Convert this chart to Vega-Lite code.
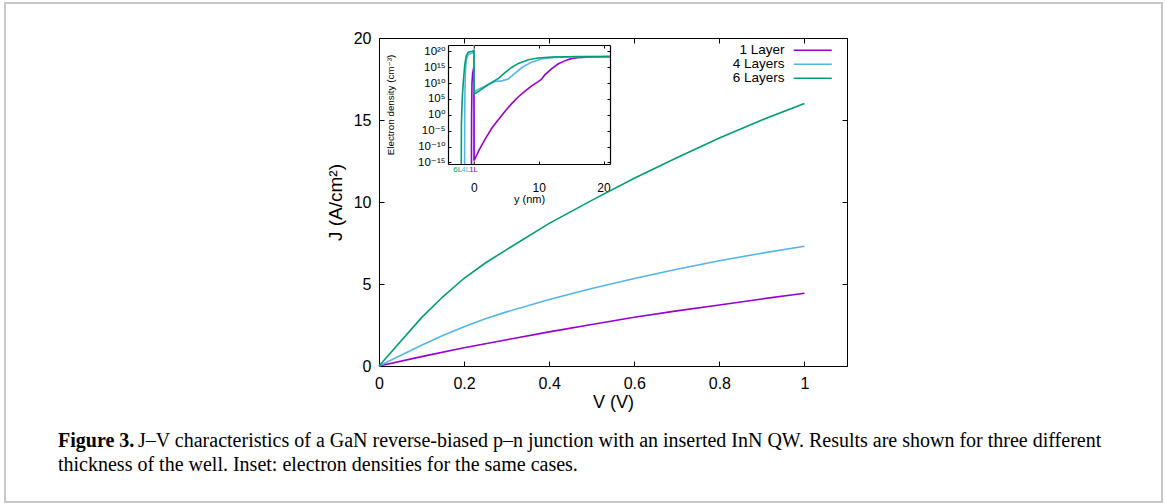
{
  "$schema": "https://vega.github.io/schema/vega-lite/v6.json",
  "width": 1157,
  "height": 499,
  "autosize": {"type": "none"},
  "padding": {"left": 5, "top": 3, "right": 3, "bottom": 2},
  "background": "white",
  "config": {
    "view": {"stroke": "#c8c8c8", "strokeWidth": 2},
    "font": "Liberation Sans",
    "axis": {
      "grid": false,
      "domainColor": "black",
      "tickColor": "black",
      "labelColor": "black",
      "titleColor": "black",
      "labelFont": "Liberation Sans, DejaVu Sans",
      "titleFont": "Liberation Sans, DejaVu Sans",
      "titleFontWeight": "normal",
      "labelFlush": false,
      "labelOverlap": false
    }
  },
  "datasets": {
    "jv": [
      {"series": "1 Layer", "V": 0, "J": 0},
      {"series": "1 Layer", "V": 0.1, "J": 0.57},
      {"series": "1 Layer", "V": 0.2, "J": 1.11},
      {"series": "1 Layer", "V": 0.3, "J": 1.6},
      {"series": "1 Layer", "V": 0.4, "J": 2.08},
      {"series": "1 Layer", "V": 0.5, "J": 2.53},
      {"series": "1 Layer", "V": 0.6, "J": 2.97},
      {"series": "1 Layer", "V": 0.7, "J": 3.36},
      {"series": "1 Layer", "V": 0.8, "J": 3.72},
      {"series": "1 Layer", "V": 0.9, "J": 4.09},
      {"series": "1 Layer", "V": 1.0, "J": 4.44},
      {"series": "4 Layers", "V": 0, "J": 0},
      {"series": "4 Layers", "V": 0.1, "J": 1.27},
      {"series": "4 Layers", "V": 0.15, "J": 1.86},
      {"series": "4 Layers", "V": 0.2, "J": 2.4},
      {"series": "4 Layers", "V": 0.25, "J": 2.88},
      {"series": "4 Layers", "V": 0.3, "J": 3.3},
      {"series": "4 Layers", "V": 0.4, "J": 4.05},
      {"series": "4 Layers", "V": 0.5, "J": 4.72},
      {"series": "4 Layers", "V": 0.6, "J": 5.33},
      {"series": "4 Layers", "V": 0.7, "J": 5.9},
      {"series": "4 Layers", "V": 0.8, "J": 6.42},
      {"series": "4 Layers", "V": 0.9, "J": 6.88},
      {"series": "4 Layers", "V": 1.0, "J": 7.3},
      {"series": "6 Layers", "V": 0, "J": 0},
      {"series": "6 Layers", "V": 0.1, "J": 2.95},
      {"series": "6 Layers", "V": 0.15, "J": 4.22},
      {"series": "6 Layers", "V": 0.2, "J": 5.35},
      {"series": "6 Layers", "V": 0.25, "J": 6.28},
      {"series": "6 Layers", "V": 0.3, "J": 7.1},
      {"series": "6 Layers", "V": 0.4, "J": 8.7},
      {"series": "6 Layers", "V": 0.5, "J": 10.1},
      {"series": "6 Layers", "V": 0.6, "J": 11.45},
      {"series": "6 Layers", "V": 0.7, "J": 12.7},
      {"series": "6 Layers", "V": 0.8, "J": 13.9},
      {"series": "6 Layers", "V": 0.9, "J": 15.0},
      {"series": "6 Layers", "V": 1.0, "J": 16.0}
    ],
    "dens": [
      {"series": "1 Layer", "d": -0.38, "n": 3.17e-16},
      {"series": "1 Layer", "d": -0.36, "n": 1},
      {"series": "1 Layer", "d": -0.3, "n": 1e10},
      {"series": "1 Layer", "d": -0.2, "n": 1e13},
      {"series": "1 Layer", "d": -0.05, "n": 5e14},
      {"series": "1 Layer", "d": 0, "n": 5e14},
      {"series": "1 Layer", "d": 0.03, "n": 4e-15},
      {"series": "1 Layer", "d": 0.77, "n": 6e-12},
      {"series": "1 Layer", "d": 1.78, "n": 3e-8},
      {"series": "1 Layer", "d": 2.8, "n": 8e-5},
      {"series": "1 Layer", "d": 3.82, "n": 0.04},
      {"series": "1 Layer", "d": 4.84, "n": 16},
      {"series": "1 Layer", "d": 5.86, "n": 4000},
      {"series": "1 Layer", "d": 6.87, "n": 5e5},
      {"series": "1 Layer", "d": 7.89, "n": 3e7},
      {"series": "1 Layer", "d": 8.91, "n": 1.3e9},
      {"series": "1 Layer", "d": 9.93, "n": 3e10},
      {"series": "1 Layer", "d": 10.44, "n": 1.6e11},
      {"series": "1 Layer", "d": 10.94, "n": 4e12},
      {"series": "1 Layer", "d": 11.96, "n": 3e14},
      {"series": "1 Layer", "d": 12.98, "n": 1e16},
      {"series": "1 Layer", "d": 14.0, "n": 1e17},
      {"series": "1 Layer", "d": 15.0, "n": 5e17},
      {"series": "1 Layer", "d": 16.0, "n": 1e18},
      {"series": "1 Layer", "d": 18.07, "n": 1.6e18},
      {"series": "1 Layer", "d": 21, "n": 2.2e18},
      {"series": "4 Layers", "d": -1.44, "n": 3.17e-16},
      {"series": "4 Layers", "d": -1.42, "n": 0.1},
      {"series": "4 Layers", "d": -1.38, "n": 1e8},
      {"series": "4 Layers", "d": -1.3, "n": 1e14},
      {"series": "4 Layers", "d": -1.17, "n": 3e17},
      {"series": "4 Layers", "d": -0.86, "n": 1e19},
      {"series": "4 Layers", "d": -0.25, "n": 3e19},
      {"series": "4 Layers", "d": 0, "n": 5e19},
      {"series": "4 Layers", "d": 0.02, "n": 2e7},
      {"series": "4 Layers", "d": 1.27, "n": 4e8},
      {"series": "4 Layers", "d": 2.3, "n": 5e9},
      {"series": "4 Layers", "d": 3.3, "n": 3e10},
      {"series": "4 Layers", "d": 4.3, "n": 5e10},
      {"series": "4 Layers", "d": 5.3, "n": 2e11},
      {"series": "4 Layers", "d": 6.36, "n": 1.3e13},
      {"series": "4 Layers", "d": 7.4, "n": 8e14},
      {"series": "4 Layers", "d": 8.9, "n": 4e16},
      {"series": "4 Layers", "d": 10.4, "n": 4e17},
      {"series": "4 Layers", "d": 12.5, "n": 1.3e18},
      {"series": "4 Layers", "d": 16, "n": 2e18},
      {"series": "4 Layers", "d": 21, "n": 2.5e18},
      {"series": "6 Layers", "d": -1.95, "n": 3.17e-16},
      {"series": "6 Layers", "d": -1.93, "n": 0.001},
      {"series": "6 Layers", "d": -1.88, "n": 2.5},
      {"series": "6 Layers", "d": -1.78, "n": 1e6},
      {"series": "6 Layers", "d": -1.67, "n": 2.5e9},
      {"series": "6 Layers", "d": -1.42, "n": 6e15},
      {"series": "6 Layers", "d": -1.17, "n": 5e18},
      {"series": "6 Layers", "d": -0.86, "n": 5e19},
      {"series": "6 Layers", "d": -0.25, "n": 1e20},
      {"series": "6 Layers", "d": 0, "n": 1.6e20},
      {"series": "6 Layers", "d": 0.02, "n": 3e6},
      {"series": "6 Layers", "d": 0.77, "n": 3e7},
      {"series": "6 Layers", "d": 1.78, "n": 8e8},
      {"series": "6 Layers", "d": 2.8, "n": 1.8e10},
      {"series": "6 Layers", "d": 3.8, "n": 3e11},
      {"series": "6 Layers", "d": 4.84, "n": 2.5e13},
      {"series": "6 Layers", "d": 5.86, "n": 1e15},
      {"series": "6 Layers", "d": 6.87, "n": 1.6e16},
      {"series": "6 Layers", "d": 8.4, "n": 2.2e17},
      {"series": "6 Layers", "d": 9.9, "n": 8e17},
      {"series": "6 Layers", "d": 12, "n": 1.6e18},
      {"series": "6 Layers", "d": 16, "n": 2.5e18},
      {"series": "6 Layers", "d": 21, "n": 2.5e18}
    ],
    "tags": [
      {"tag": "6L", "pos": -2.5, "series": "6 Layers"},
      {"tag": "4L", "pos": -1.26, "series": "4 Layers"},
      {"tag": "1L", "pos": -0.05, "series": "1 Layer"}
    ]
  },
  "title": {
    "text": "Figure 3.",
    "subtitle": [
      "\u200b\u00a0\u00a0\u00a0\u00a0\u00a0\u00a0\u00a0\u00a0\u00a0\u00a0\u00a0\u00a0\u00a0\u00a0\u00a0\u00a0J–V characteristics of a GaN reverse-biased p–n junction with an inserted InN QW. Results are shown for three different",
      "thickness of the well. Inset: electron densities for the same cases."
    ],
    "orient": "bottom",
    "anchor": "start",
    "frame": "group",
    "offset": -55,
    "dx": 53,
    "baseline": "alphabetic",
    "font": "Liberation Serif",
    "fontSize": 20,
    "fontWeight": "bold",
    "color": "black",
    "subtitleFont": "Liberation Serif",
    "subtitleFontSize": 20,
    "subtitleColor": "black",
    "subtitleLineHeight": 23.5,
    "subtitlePadding": -20
  },
  "layer": [
    {
      "data": {"name": "jv"},
      "mark": {"type": "line", "strokeWidth": 1.6},
      "encoding": {
        "x": {
          "field": "V", "type": "quantitative",
          "scale": {"domain": [0, 1.1], "range": [374, 842], "nice": false, "zero": false},
          "axis": {"orient": "bottom", "offset": -136, "values": [0, 0.2, 0.4, 0.6, 0.8, 1], "format": "~g",
                   "labelFontSize": 16, "tickSize": -5, "labelPadding": 14, "domainWidth": 1,
                   "title": "V (V)", "titleFontSize": 18, "titlePadding": 2}
        },
        "y": {
          "field": "J", "type": "quantitative",
          "scale": {"domain": [0, 20], "range": [363, 35], "nice": false},
          "axis": {"orient": "left", "offset": -374, "values": [0, 5, 10, 15, 20],
                   "labelFontSize": 16, "tickSize": -5, "labelPadding": 13, "domainWidth": 1,
                   "title": "J (A/cm²)", "titleFontSize": 19, "titlePadding": 8}
        },
        "color": {
          "field": "series", "type": "nominal",
          "scale": {"domain": ["1 Layer", "4 Layers", "6 Layers"], "range": ["#9400d3", "#56b4e9", "#009e73"]},
          "legend": {
            "orient": "none", "legendX": 801, "legendY": 40.5, "title": null,
            "symbolType": "M-5,0H5", "symbolSize": 58, "symbolStrokeWidth": 1.6,
            "labelFontSize": 13.5, "labelFont": "Liberation Sans", "labelColor": "black",
            "labelAlign": "right", "labelOffset": -35, "rowPadding": -2
          }
        }
      }
    },
    {
      "data": {"name": "jv"},
      "mark": {"type": "point", "opacity": 0},
      "encoding": {
        "x": {
          "field": "V", "type": "quantitative",
          "scale": {"domain": [0, 1.1], "range": [374, 842], "nice": false, "zero": false},
          "axis": {"orient": "top", "offset": -35, "values": [0, 0.2, 0.4, 0.6, 0.8, 1], "labels": false,
                   "tickSize": -5, "domainWidth": 1, "title": null}
        },
        "y": {
          "field": "J", "type": "quantitative",
          "scale": {"domain": [0, 20], "range": [363, 35], "nice": false},
          "axis": {"orient": "right", "offset": -315, "values": [0, 5, 10, 15, 20], "labels": false,
                   "tickSize": -5, "domainWidth": 1, "title": null}
        }
      }
    },
    {
      "layer": [
        {
          "data": {"values": [{"at": 0}]},
          "mark": {"type": "rule", "color": "#a0a0a0", "strokeWidth": 1},
          "encoding": {
            "x": {"field": "at", "type": "quantitative"},
            "y": {"datum": 3.16e-16},
            "y2": {"datum": 1e22}
          }
        },
        {
          "data": {"name": "dens"},
          "mark": {"type": "line", "strokeWidth": 1.6},
          "encoding": {
            "x": {
              "field": "d", "type": "quantitative",
              "scale": {"domain": [-4, 21], "range": [443, 605], "nice": false, "zero": false},
              "axis": {"orient": "bottom", "offset": -338, "values": [0, 10, 20],
                       "labelFontSize": 12, "tickSize": -3, "labelPadding": 21, "domainWidth": 1.2,
                       "title": "y (nm)", "titleFontSize": 11, "titlePadding": 0}
            },
            "y": {
              "field": "n", "type": "quantitative",
              "scale": {"type": "log", "domain": [3.16e-16, 1e22], "range": [161, 42], "nice": false},
              "axis": {"orient": "left", "offset": -443,
                       "values": [1e-15, 1e-10, 1e-5, 1, 1e5, 1e10, 1e15, 1e20],
                       "labelExpr": "datum.value > 1e19 ? '10²⁰' : datum.value > 1e14 ? '10¹⁵' : datum.value > 1e9 ? '10¹⁰' : datum.value > 1e4 ? '10⁵' : datum.value > 0.1 ? '10⁰' : datum.value > 1e-6 ? '10⁻⁵' : datum.value > 1e-11 ? '10⁻¹⁰' : '10⁻¹⁵'",
                       "labelFontSize": 11.5, "tickSize": -3, "labelPadding": 6, "domainWidth": 1.2,
                       "title": "Electron density (cm⁻³)", "titleFontSize": 9.8, "titlePadding": 22}
            },
            "color": {"field": "series", "type": "nominal", "legend": null},
            "order": {"value": null}
          }
        },
        {
          "data": {"name": "tags"},
          "mark": {"type": "text", "fontSize": 8, "baseline": "middle", "dy": 6},
          "encoding": {
            "x": {"field": "pos", "type": "quantitative"},
            "y": {"datum": 3.16e-16},
            "text": {"field": "tag"},
            "color": {"field": "series", "type": "nominal", "legend": null}
          }
        }
      ]
    },
    {
      "data": {"name": "dens"},
      "mark": {"type": "point", "opacity": 0},
      "encoding": {
        "x": {
          "field": "d", "type": "quantitative",
          "scale": {"domain": [-4, 21], "range": [443, 605], "nice": false, "zero": false},
          "axis": {"orient": "top", "offset": -42, "values": [0, 10, 20], "labels": false,
                   "tickSize": -3, "domainWidth": 1.2, "title": null}
        },
        "y": {
          "field": "n", "type": "quantitative",
          "scale": {"type": "log", "domain": [3.16e-16, 1e22], "range": [161, 42], "nice": false},
          "axis": {"orient": "right", "offset": -552,
                   "values": [1e-15, 1e-10, 1e-5, 1, 1e5, 1e10, 1e15, 1e20], "labels": false,
                   "tickSize": -3, "domainWidth": 1.2, "title": null}
        }
      }
    }
  ],
  "resolve": {
    "scale": {"x": "independent", "y": "independent"},
    "axis": {"x": "independent", "y": "independent"}
  }
}
